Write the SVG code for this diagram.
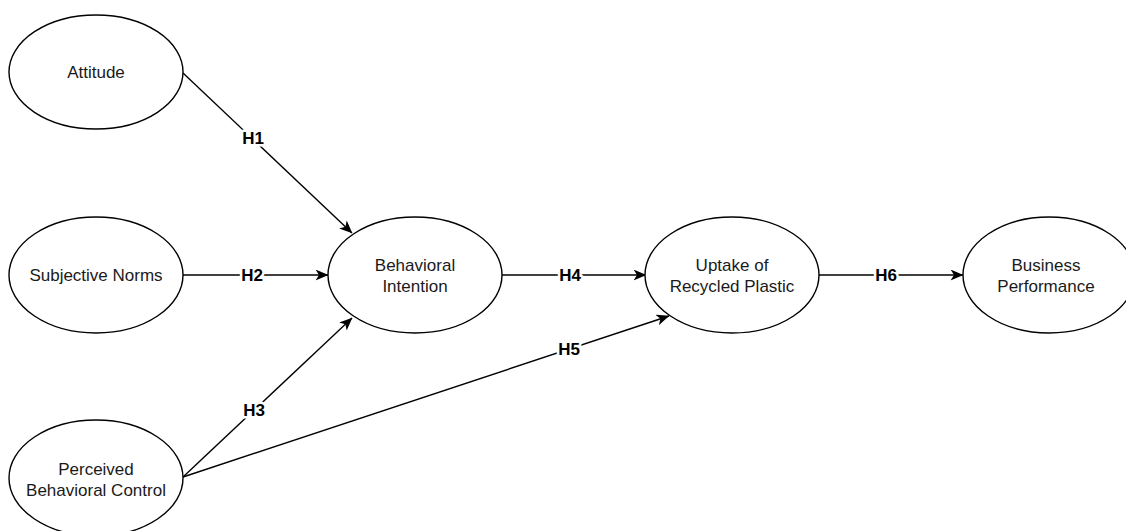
<svg xmlns="http://www.w3.org/2000/svg" width="1126" height="531" viewBox="0 0 1126 531">
<style>
.node ellipse{fill:#fff;stroke:#000;stroke-width:1.4}
.node text{font-family:"Liberation Sans",Arial,sans-serif;font-size:17px;fill:#1a1a1a;text-anchor:middle;dominant-baseline:central}
.edge{stroke:#000;stroke-width:1.4;fill:none}
.lbl{font-family:"Liberation Sans",Arial,sans-serif;font-size:17px;font-weight:bold;fill:#000;text-anchor:middle;dominant-baseline:central;paint-order:stroke;stroke:#fff;stroke-width:5px;stroke-linejoin:round}
</style>
<defs>
<marker id="arr" viewBox="0 0 13 11" refX="12.5" refY="5.5" markerWidth="13" markerHeight="11" markerUnits="userSpaceOnUse" orient="auto">
<path d="M0,0 L13,5.5 L0,11 L3.5,5.5 z" fill="#000"/>
</marker>
</defs>
<rect width="1126" height="531" fill="#fff"/>
<g id="connectors">
<line class="edge" x1="183" y1="73" x2="352" y2="233" marker-end="url(#arr)"/>
<line class="edge" x1="183" y1="275" x2="328" y2="275" marker-end="url(#arr)"/>
<line class="edge" x1="183" y1="477" x2="352" y2="318" marker-end="url(#arr)"/>
<line class="edge" x1="183" y1="477" x2="669" y2="316" marker-end="url(#arr)"/>
<line class="edge" x1="502" y1="275" x2="646" y2="275" marker-end="url(#arr)"/>
<line class="edge" x1="819" y1="275" x2="963" y2="275" marker-end="url(#arr)"/>
<text class="lbl" x="253" y="138">H1</text>
<text class="lbl" x="252" y="275">H2</text>
<text class="lbl" x="254" y="410">H3</text>
<text class="lbl" x="570" y="275">H4</text>
<text class="lbl" x="569" y="349">H5</text>
<text class="lbl" x="886" y="275">H6</text>
</g>
<g id="attitude" class="node">
<ellipse cx="96" cy="72" rx="87" ry="57"/>
<text x="96" y="72">Attitude</text>
</g>
<g id="subjective-norms" class="node">
<ellipse cx="96" cy="275" rx="87" ry="58"/>
<text x="96" y="275">Subjective Norms</text>
</g>
<g id="perceived-behavioral-control" class="node">
<ellipse cx="96" cy="478" rx="87" ry="58"/>
<text x="96" y="469">Perceived</text>
<text x="96" y="490">Behavioral Control</text>
</g>
<g id="behavioral-intention" class="node">
<ellipse cx="415" cy="275" rx="87" ry="58"/>
<text x="415" y="265">Behavioral</text>
<text x="415" y="286">Intention</text>
</g>
<g id="uptake" class="node">
<ellipse cx="732" cy="275" rx="87" ry="58"/>
<text x="732" y="265">Uptake of</text>
<text x="732" y="286">Recycled Plastic</text>
</g>
<g id="business-performance" class="node">
<ellipse cx="1049" cy="275" rx="86" ry="58"/>
<text x="1046" y="265">Business</text>
<text x="1046" y="286">Performance</text>
</g>
</svg>
